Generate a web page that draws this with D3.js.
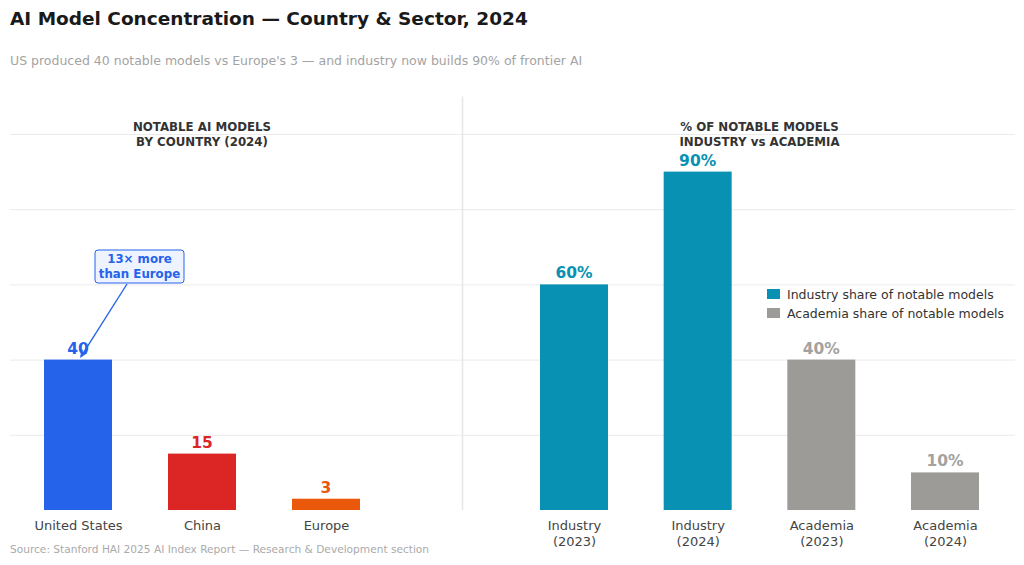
<!DOCTYPE html>
<html>
<head>
<meta charset="utf-8">
<script src="https://cdn.jsdelivr.net/npm/d3@7"></script>
<style>
  body { margin: 0; background: #fff; }
  svg { display: block; font-family: "DejaVu Sans", sans-serif; }
  .grid line { stroke: #ebebeb; stroke-width: 1; }
  .grid path { display: none; }
  .xaxis path { display: none; }
</style>
</head>
<body>
<div id="chart"></div>
<script>
// Data
const countries = ["United States", "China", "Europe"];
const countryModels = [40, 15, 3];
const countryColors = ["#2563eb", "#dc2626", "#ea580c"];

const sectorLabels = ["Industry\n(2023)", "Industry\n(2024)", "Academia\n(2023)", "Academia\n(2024)"];
const sectorShare = [60, 90, 40, 10];
const sectorGroup = ["Industry", "Industry", "Academia", "Academia"];

const legendLabels = ["Industry share of notable models", "Academia share of notable models"];
const gridTicks = [20, 40, 60, 80, 100];

const WIDTH = 1024;
const HEIGHT = 565;
const BAR_W = 68;
const TEAL = "#0891b2";
const GRAY = "#9c9b97";
const groupColor = { Industry: TEAL, Academia: GRAY };
const labelColor = { Industry: TEAL, Academia: "#a3a2a0" };

const svg = d3
  .select("#chart")
  .append("svg")
  .attr("width", WIDTH)
  .attr("height", HEIGHT);

// Title and subtitle
svg
  .append("text")
  .attr("x", 10)
  .attr("y", 25)
  .attr("font-size", 18.5)
  .attr("font-weight", "bold")
  .attr("fill", "#1a1a1a")
  .text("AI Model Concentration \u2014 Country & Sector, 2024");

svg
  .append("text")
  .attr("x", 10)
  .attr("y", 65)
  .attr("font-size", 12.5)
  .attr("fill", "#a3a3a3")
  .text("US produced 40 notable models vs Europe's 3 \u2014 and industry now builds 90% of frontier AI");

// Shared y scale
const y = d3.scaleLinear().domain([0, 110]).range([510, 96.4]);

// Gridlines
svg
  .append("g")
  .attr("class", "grid")
  .attr("transform", "translate(10,0)")
  .call(d3.axisLeft(y).tickValues(gridTicks).tickSize(-1005).tickFormat(""));

// Divider between panels
svg
  .append("line")
  .attr("x1", 462.5)
  .attr("x2", 462.5)
  .attr("y1", y(110))
  .attr("y2", y(0))
  .attr("stroke", "#e6e6e6")
  .attr("stroke-width", 1.5);

// Left panel: models by country
const xLeft = d3.scalePoint().domain(countries).range([78, 326]);

svg
  .selectAll(".bar-country")
  .data(countryModels)
  .enter()
  .append("rect")
  .attr("class", "bar-country")
  .attr("x", (d, i) => xLeft(countries[i]) - BAR_W / 2)
  .attr("y", (d) => y(d))
  .attr("width", BAR_W)
  .attr("height", (d) => y(0) - y(d))
  .attr("fill", (d, i) => countryColors[i]);

svg
  .selectAll(".lbl-country")
  .data(countryModels)
  .enter()
  .append("text")
  .attr("class", "lbl-country")
  .attr("x", (d, i) => xLeft(countries[i]))
  .attr("y", (d) => y(d) - 6)
  .attr("text-anchor", "middle")
  .attr("font-size", 15.5)
  .attr("font-weight", "bold")
  .attr("fill", (d, i) => countryColors[i])
  .text((d) => d);

const xl = svg
  .append("g")
  .attr("class", "xaxis")
  .attr("transform", "translate(0,510)")
  .call(d3.axisBottom(xLeft).tickSize(0).tickPadding(10))
  .attr("font-family", null)
  .attr("font-size", 13);

xl.selectAll("text").attr("fill", "#444").attr("dy", null).attr("y", 20);

// Right panel: industry vs academia
const xRight = d3.scalePoint().domain(sectorLabels).range([574, 945]);

svg
  .selectAll(".bar-sector")
  .data(sectorShare)
  .enter()
  .append("rect")
  .attr("class", "bar-sector")
  .attr("x", (d, i) => xRight(sectorLabels[i]) - BAR_W / 2)
  .attr("y", (d) => y(d))
  .attr("width", BAR_W)
  .attr("height", (d) => y(0) - y(d))
  .attr("fill", (d, i) => groupColor[sectorGroup[i]]);

svg
  .selectAll(".lbl-sector")
  .data(sectorShare)
  .enter()
  .append("text")
  .attr("class", "lbl-sector")
  .attr("x", (d, i) => xRight(sectorLabels[i]))
  .attr("y", (d) => y(d) - 6)
  .attr("text-anchor", "middle")
  .attr("font-size", 15.5)
  .attr("font-weight", "bold")
  .attr("fill", (d, i) => labelColor[sectorGroup[i]])
  .text((d) => d + "%");

const xr = svg
  .append("g")
  .attr("class", "xaxis")
  .attr("transform", "translate(0,510)")
  .call(d3.axisBottom(xRight).tickSize(0).tickFormat(""))
  .attr("font-family", null)
  .attr("font-size", 13);

// two-line tick labels
xr.selectAll(".tick")
  .append("text")
  .attr("text-anchor", "middle")
  .attr("fill", "#444")
  .selectAll("tspan")
  .data((d) => d.split("\n"))
  .enter()
  .append("tspan")
  .attr("x", 0)
  .attr("y", (d, i) => 20 + i * 16)
  .text((d) => d);

// Panel titles
function panelTitle(lines, cx) {
  svg
    .append("text")
    .attr("text-anchor", "middle")
    .attr("font-size", 11.8)
    .attr("font-weight", "bold")
    .attr("fill", "#333")
    .selectAll("tspan")
    .data(lines)
    .enter()
    .append("tspan")
    .attr("x", cx)
    .attr("y", (d, i) => 131 + i * 15)
    .text((d) => d);
}
panelTitle(["NOTABLE AI MODELS", "BY COUNTRY (2024)"], (xLeft(countries[0]) + xLeft(countries[2])) / 2);
panelTitle(["% OF NOTABLE MODELS", "INDUSTRY vs ACADEMIA"], (xRight(sectorLabels[0]) + xRight(sectorLabels[3])) / 2);

// Annotation on US bar
const boxX = 95, boxY = 250, boxW = 89, boxH = 33;
const tipX = xLeft(countries[0]) + 3;
const tipY = y(countryModels[0]) - 3;
const fromX = 127, fromY = boxY + boxH + 1;

svg
  .append("line")
  .attr("x1", fromX)
  .attr("y1", fromY)
  .attr("x2", tipX)
  .attr("y2", tipY)
  .attr("stroke", "#2563eb")
  .attr("stroke-width", 1.4);

const ang = Math.atan2(tipY - fromY, tipX - fromX);
const head = 7;
svg
  .append("path")
  .attr(
    "d",
    `M${tipX + head * Math.cos(ang + Math.PI - 0.4)},${tipY + head * Math.sin(ang + Math.PI - 0.4)}` +
      `L${tipX},${tipY}` +
      `L${tipX + head * Math.cos(ang + Math.PI + 0.4)},${tipY + head * Math.sin(ang + Math.PI + 0.4)}`
  )
  .attr("fill", "none")
  .attr("stroke", "#2563eb")
  .attr("stroke-width", 1.4);

svg
  .append("rect")
  .attr("x", boxX)
  .attr("y", boxY)
  .attr("width", boxW)
  .attr("height", boxH)
  .attr("rx", 3)
  .attr("fill", "#eef4ff")
  .attr("stroke", "#2563eb")
  .attr("stroke-width", 1);

svg
  .append("text")
  .attr("text-anchor", "middle")
  .attr("font-size", 11.8)
  .attr("font-weight", "bold")
  .attr("fill", "#2563eb")
  .selectAll("tspan")
  .data(["13\u00d7 more", "than Europe"])
  .enter()
  .append("tspan")
  .attr("x", boxX + boxW / 2)
  .attr("y", (d, i) => 263 + i * 15)
  .text((d) => d);

// Legend
const legend = svg
  .selectAll(".legend")
  .data(legendLabels)
  .enter()
  .append("g")
  .attr("class", "legend")
  .attr("transform", (d, i) => `translate(767,${289 + i * 19})`);

legend
  .append("rect")
  .attr("width", 13)
  .attr("height", 10)
  .attr("fill", (d, i) => (i === 0 ? TEAL : GRAY));

legend
  .append("text")
  .attr("x", 20)
  .attr("y", 9.5)
  .attr("font-size", 12.5)
  .attr("fill", "#333")
  .text((d) => d);

// Source
svg
  .append("text")
  .attr("x", 10)
  .attr("y", 553)
  .attr("font-size", 10.6)
  .attr("fill", "#aaa")
  .text("Source: Stanford HAI 2025 AI Index Report \u2014 Research & Development section");
</script>
</body>
</html>
